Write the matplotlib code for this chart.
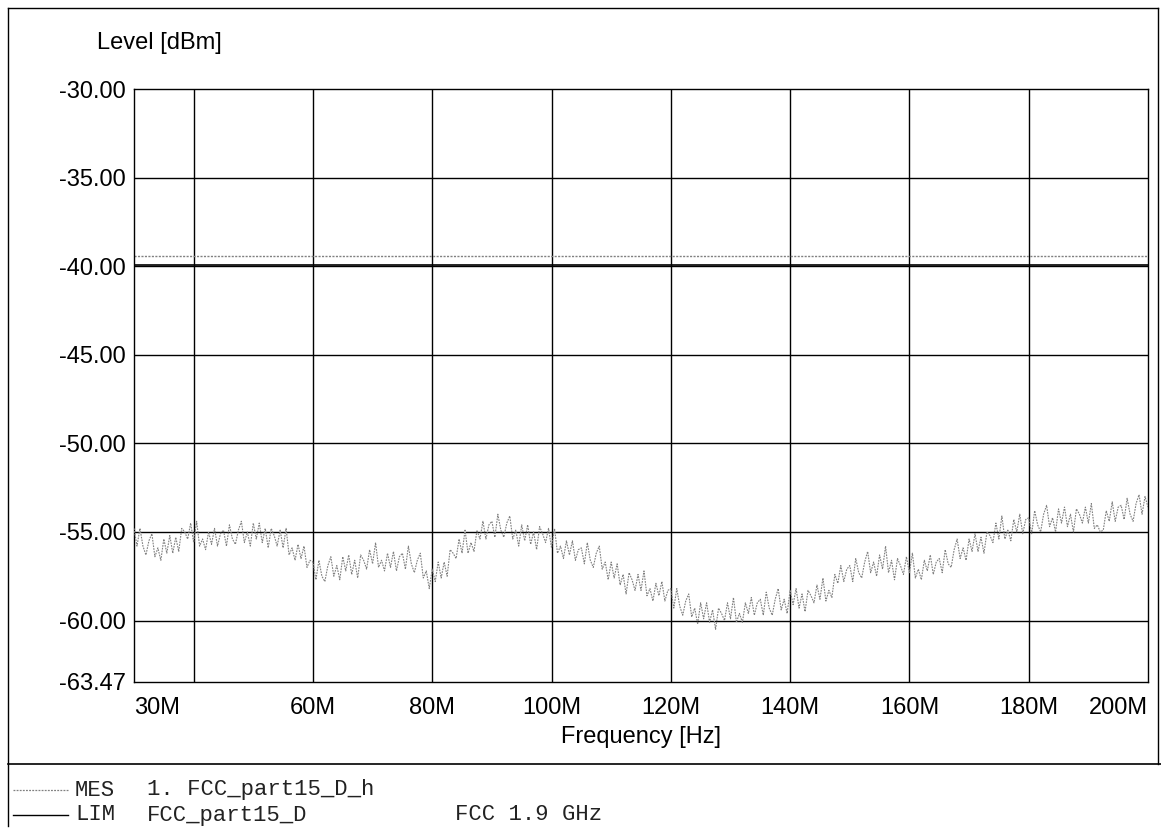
import matplotlib.pyplot as plt
from matplotlib.lines import Line2D
import numpy as np

plt.rcParams['font.family'] = ['Liberation Sans', 'DejaVu Sans']

# sweep 30 MHz .. 200 MHz, 0.5 MHz step
f_start = 30e6
f_stop = 200e6
mes_dbm = [
    -54.8, -55.8, -54.8, -55.8, -56.3, -55.5, -55.1, -56.4, -55.9, -56.6,
    -55.4, -56.2, -55.2, -56.2, -55.3, -56.1, -54.8, -55.0, -55.4, -54.5,
    -55.6, -54.4, -55.8, -55.4, -56.0, -55.0, -55.7, -54.8, -55.8, -55.1,
    -54.9, -55.8, -54.6, -55.4, -55.7, -54.9, -54.4, -55.6, -55.0, -55.8,
    -54.5, -55.4, -54.5, -55.6, -54.8, -55.9, -54.8, -55.2, -55.8, -54.9,
    -55.9, -54.8, -56.3, -55.9, -56.6, -55.7, -56.5, -55.8, -57.0, -56.6,
    -56.7, -57.7, -56.6, -57.5, -57.8, -56.9, -56.4, -57.5, -56.9, -57.7,
    -56.4, -57.2, -56.3, -57.4, -56.6, -57.6, -56.3, -56.6, -57.1, -56.0,
    -56.8, -55.6, -57.0, -56.6, -57.2, -56.2, -57.0, -56.1, -57.2, -56.4,
    -56.2, -57.1, -55.8, -56.8, -57.3, -56.6, -56.2, -57.6, -57.2, -58.2,
    -57.1, -57.8, -56.7, -57.6, -56.7, -57.5, -56.0, -56.2, -56.5, -55.4,
    -56.2, -54.9, -56.2, -55.6, -56.1, -54.9, -55.4, -54.4, -55.4, -54.6,
    -54.4, -55.3, -54.0, -54.9, -55.3, -54.5, -54.1, -55.4, -54.9, -55.8,
    -54.6, -55.5, -54.6, -55.7, -55.0, -56.0, -54.7, -55.1, -55.6, -54.8,
    -55.9, -54.8, -56.2, -55.8, -56.5, -55.5, -56.3, -55.5, -56.6, -56.0,
    -55.9, -56.8, -55.6, -56.6, -57.0, -56.2, -55.8, -57.1, -56.7, -57.7,
    -56.7, -57.6, -56.8, -58.0, -57.4, -58.5, -57.3, -57.7, -58.3, -57.4,
    -58.3, -57.2, -58.6, -58.2, -58.9, -57.9, -58.6, -57.8, -58.9, -58.3,
    -58.2, -59.3, -58.2, -59.2, -59.7, -58.9, -58.5, -59.8, -59.3, -60.2,
    -59.0, -59.9, -59.0, -60.1, -59.4, -60.5, -59.3, -59.6, -60.0, -59.0,
    -59.9, -58.7, -60.1, -59.6, -60.1, -59.0, -59.6, -58.7, -59.7, -59.0,
    -58.8, -59.7, -58.4, -59.3, -59.7, -58.8, -58.2, -59.4, -58.8, -59.6,
    -58.3, -59.1, -58.2, -59.3, -58.5, -59.5, -58.3, -58.6, -59.0, -58.0,
    -58.8, -57.6, -58.9, -58.3, -58.7, -57.4, -57.9, -56.9, -57.8, -57.1,
    -56.9, -57.8, -56.5, -57.3, -57.6, -56.7, -56.1, -57.3, -56.7, -57.5,
    -56.3, -57.1, -55.8, -57.3, -56.6, -57.7, -56.5, -56.9, -57.4, -56.4,
    -57.3, -56.2, -57.6, -57.1, -57.7, -56.6, -57.2, -56.3, -57.4, -56.7,
    -56.5, -57.3, -56.0, -56.8, -57.0, -56.0, -55.4, -56.5, -55.9, -56.6,
    -55.4, -56.1, -55.1, -56.1, -55.3, -56.2, -55.0, -55.2, -55.6, -54.5,
    -55.4, -54.1, -55.4, -54.9, -55.5, -54.3, -55.0, -54.0, -55.1, -54.3,
    -54.2, -55.1, -53.8, -54.6, -55.0, -54.0, -53.5, -54.7, -54.2, -55.0,
    -53.7, -54.5, -53.6, -54.7, -54.0, -55.0, -53.7, -54.0, -54.5, -53.6,
    -54.5, -53.4, -54.8, -54.6, -55.0, -54.9, -53.8, -54.4, -53.3, -54.4,
    -53.6, -53.5, -54.3, -53.1, -54.0, -54.4, -53.4, -52.9, -54.0, -53.0,
    -53.6,
]
lim_dbm = -39.95
lim_upper_dbm = -39.4

y_min, y_max = -63.47, -30.0
y_ticks = [-30.0, -35.0, -40.0, -45.0, -50.0, -55.0, -60.0, -63.47]
x_ticks = [30e6, 60e6, 80e6, 100e6, 120e6, 140e6, 160e6, 180e6, 200e6]
x_tick_labels = ['30M', '60M', '80M', '100M', '120M', '140M', '160M', '180M', '200M']
x_grid = [40e6, 60e6, 80e6, 100e6, 120e6, 140e6, 160e6, 180e6]
y_grid = [-35.0, -40.0, -45.0, -50.0, -55.0, -60.0]

W, H = 1161, 834
fig = plt.figure(figsize=(W / 100, H / 100), dpi=100)
ax = fig.add_axes([134 / W, 1 - 682 / H, (1148 - 134) / W, (682 - 89) / H])

freq = np.linspace(f_start, f_stop, len(mes_dbm))

for gx in x_grid:
    ax.axvline(gx, color='black', lw=1.0, zorder=1)
for gy in y_grid:
    ax.axhline(gy, color='black', lw=1.0, zorder=1)

ax.axhline(lim_upper_dbm, color='0.5', lw=1.0, linestyle=(0, (1.5, 1)), zorder=2)
ax.axhline(lim_dbm, color='black', lw=1.2, zorder=2)
ax.plot(freq, mes_dbm, color='0.5', lw=0.8, linestyle=(0, (1.5, 1)), zorder=3)

ax.set_xlim(f_start, f_stop)
ax.set_ylim(y_min, y_max)
ax.set_yticks(y_ticks)
ax.set_yticklabels(['%.2f' % v for v in y_ticks])
ax.set_xticks(x_ticks)
ax.set_xticklabels(x_tick_labels)
ax.tick_params(axis='both', length=0, labelsize=17)
ax.tick_params(axis='y', pad=6)
ax.tick_params(axis='x', pad=11)
lbls = ax.get_xticklabels()
lbls[0].set_ha('left')
lbls[-1].set_ha('right')
for s in ax.spines.values():
    s.set_color('black')
    s.set_linewidth(1.0)

fig.text(97 / W, 1 - 43 / H, 'Level [dBm]', fontsize=17, ha='left', va='center')
fig.text(641 / W, 1 - 737 / H, 'Frequency [Hz]', fontsize=17, ha='center', va='center')

# frame around the whole sheet
def hline(x0, x1, y, **kw):
    fig.add_artist(Line2D([x0 / W, x1 / W], [1 - y / H, 1 - y / H], transform=fig.transFigure, **kw))

def vline(x, y0, y1, **kw):
    fig.add_artist(Line2D([x / W, x / W], [1 - y0 / H, 1 - y1 / H], transform=fig.transFigure, **kw))

hline(8, 1158, 8, color='black', lw=1.0)
vline(8, 8, 826, color='black', lw=1.0)
vline(1158, 8, 764, color='black', lw=1.0)
hline(8, 1161, 764, color='black', lw=1.2)

# legend block
mono = ['Liberation Mono', 'DejaVu Sans Mono']
hline(13, 68, 790, color='0.5', lw=0.9, linestyle=(0, (1.5, 1)))
hline(13, 68, 815, color='black', lw=1.0)
fig.text(75 / W, 1 - 790 / H, 'MES', family=mono, fontsize=16, va='center', color='#222222')
fig.text(147 / W, 1 - 790 / H, '1. FCC_part15_D_h', family=mono, fontsize=16, va='center', color='#222222')
fig.text(75 / W, 1 - 815 / H, 'LIM', family=mono, fontsize=16, va='center', color='#222222')
fig.text(147 / W, 1 - 815 / H, 'FCC_part15_D', family=mono, fontsize=16, va='center', color='#222222')
fig.text(455 / W, 1 - 815 / H, 'FCC 1.9 GHz', family=mono, fontsize=16, va='center', color='#222222')

fig.savefig('out.png', dpi=100)
